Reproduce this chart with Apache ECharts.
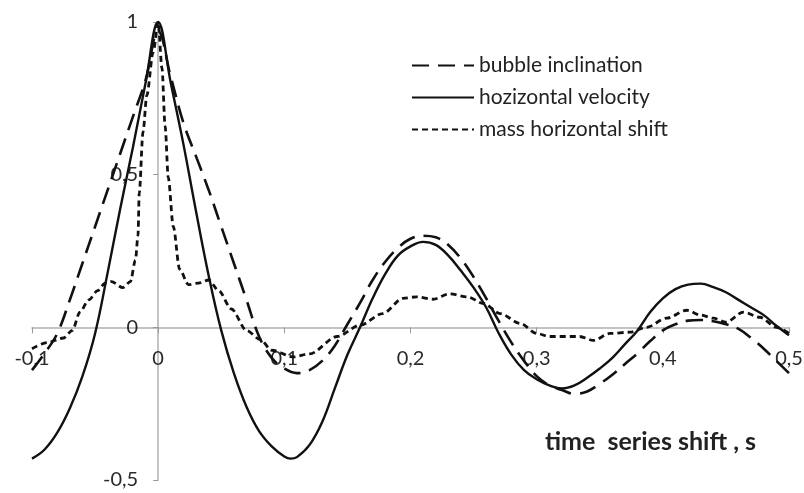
<!DOCTYPE html>
<html>
<head>
<meta charset="utf-8">
<script src="https://cdn.jsdelivr.net/npm/echarts@6/dist/echarts.min.js"></script>
<style>
html,body{margin:0;padding:0;background:#fff;}
#c{width:804px;height:493px;}
</style>
</head>
<body>
<div id="c"></div>
<script>
// Series names
const seriesNames = ['bubble inclination', 'hozizontal velocity', 'mass horizontal shift'];

// bubble inclination (long dashed): [time shift, correlation]
const inclination = [
  [-0.10,-0.14],[-0.09,-0.085],[-0.08,-0.02],[-0.07,0.09],[-0.06,0.21],[-0.05,0.33],
  [-0.04,0.45],[-0.03,0.57],[-0.02,0.69],[-0.01,0.81],[0.00,0.97],[0.01,0.82],[0.02,0.67],
  [0.03,0.56],[0.04,0.45],[0.05,0.33],[0.06,0.21],[0.07,0.09],[0.08,-0.03],[0.09,-0.10],
  [0.10,-0.135],[0.11,-0.15],[0.12,-0.14],[0.13,-0.11],[0.14,-0.06],[0.15,0.01],[0.16,0.08],
  [0.17,0.155],[0.18,0.215],[0.19,0.26],[0.20,0.29],[0.21,0.30],[0.22,0.295],[0.23,0.27],
  [0.24,0.225],[0.25,0.165],[0.26,0.095],[0.27,0.02],[0.28,-0.05],[0.29,-0.11],[0.30,-0.16],
  [0.31,-0.19],[0.32,-0.205],[0.33,-0.218],[0.34,-0.21],[0.35,-0.185],[0.36,-0.155],
  [0.37,-0.12],[0.38,-0.085],[0.39,-0.045],[0.40,-0.01],[0.41,0.01],[0.42,0.022],[0.43,0.024],
  [0.44,0.02],[0.45,0.01],[0.46,-0.005],[0.47,-0.035],[0.48,-0.07],[0.49,-0.11],[0.50,-0.15]
];

// horizontal velocity (solid)
const velocity = [
  [-0.10,-0.43],[-0.09,-0.40],[-0.08,-0.345],[-0.07,-0.265],[-0.06,-0.16],[-0.05,-0.02],
  [-0.04,0.18],[-0.03,0.39],[-0.02,0.59],[-0.01,0.80],[0.00,1.00],[0.01,0.80],[0.02,0.60],
  [0.03,0.38],[0.04,0.17],[0.05,-0.01],[0.06,-0.15],[0.07,-0.26],[0.08,-0.34],[0.09,-0.39],
  [0.10,-0.423],[0.105,-0.43],[0.11,-0.425],[0.12,-0.385],[0.13,-0.31],[0.14,-0.20],
  [0.15,-0.09],[0.16,0.00],
  [0.17,0.095],[0.18,0.175],[0.19,0.235],[0.20,0.265],[0.21,0.28],[0.22,0.27],[0.23,0.235],
  [0.24,0.185],[0.25,0.13],[0.26,0.065],[0.27,-0.02],[0.28,-0.09],[0.29,-0.14],[0.30,-0.17],
  [0.31,-0.19],[0.32,-0.20],[0.33,-0.19],[0.34,-0.165],[0.35,-0.135],[0.36,-0.10],
  [0.37,-0.055],[0.38,-0.01],[0.39,0.05],[0.40,0.095],[0.41,0.125],[0.42,0.14],[0.43,0.143],
  [0.44,0.132],[0.45,0.115],[0.46,0.09],[0.47,0.065],[0.48,0.04],[0.49,0.005],[0.50,-0.026]
];

// mass horizontal shift (short dashed)
const massShift = [
  [-0.1,-0.07],[-0.088,-0.05],[-0.075,-0.035],[-0.068,-0.01],[-0.062,0.05],[-0.055,0.09],
  [-0.048,0.12],[-0.042,0.145],[-0.037,0.15],[-0.028,0.13],[-0.022,0.15],[-0.018,0.22],
  [-0.016,0.3],[-0.015,0.44],[-0.012,0.64],[-0.009,0.76],[-0.004,0.9],[0,1.0],[0.003,0.85],
  [0.0055,0.66],[0.008,0.49],[0.012,0.33],[0.017,0.19],[0.024,0.14],[0.032,0.145],
  [0.04,0.155],[0.048,0.12],[0.058,0.06],[0.07,-0.01],[0.081,-0.04],[0.09,-0.075],
  [0.107,-0.097],[0.12,-0.087],[0.142,-0.03],[0.16,0.007],[0.178,0.045],[0.194,0.095],
  [0.205,0.1],[0.218,0.092],[0.231,0.11],[0.245,0.1],[0.258,0.078],[0.271,0.045],
  [0.287,0.013],[0.3,-0.02],[0.31,-0.03],[0.334,-0.03],[0.345,-0.043],[0.358,-0.02],
  [0.374,-0.016],[0.387,0],[0.403,0.03],[0.419,0.056],[0.43,0.04],[0.44,0.03],[0.45,0.017],
  [0.464,0.05],[0.477,0.033],[0.49,0.0],[0.5,-0.02]
];

const xAxisTitle = 'time  series shift , s';

const FONT = 'Lato';
const chart = echarts.init(document.getElementById('c'), null, {renderer: 'canvas'});
const fmt = v => String(Math.round(v * 10) / 10).replace('.', ',');

const option = {
  animation: false,
  backgroundColor: '#fff',
  grid: {left: 32, right: 15, top: 22, bottom: 13, containLabel: false, outerBoundsMode: 'none'},
  xAxis: {
    type: 'value', min: -0.1, max: 0.5, interval: 0.1, position: 'bottom', offset: 0,
    axisLine: {onZero: false, lineStyle: {color: '#b0b0b0', width: 1.5}},
    axisTick: {show: true, length: 6, lineStyle: {color: '#999'}},
    axisLabel: {margin: 21, color: '#2a2a2a', fontSize: 20, fontFamily: FONT, formatter: fmt},
    splitLine: {show: false}
  },
  yAxis: {
    type: 'value', min: -0.5, max: 1, interval: 0.5, position: 'left', offset: 0,
    axisLine: {show: true, onZero: false, lineStyle: {color: '#b0b0b0', width: 1.5}},
    axisTick: {show: true, length: 5, lineStyle: {color: '#999'}},
    axisLabel: {margin: 20, color: '#2a2a2a', fontSize: 20, fontFamily: FONT, formatter: fmt},
    splitLine: {show: false}
  },
  legend: {
    orient: 'vertical', left: 406, top: 50,
    itemWidth: 62, itemHeight: 14, itemGap: 11,
    itemStyle: {opacity: 0},
    textStyle: {fontSize: 21, fontFamily: FONT, color: '#222'},
    data: seriesNames
  },
  graphic: [{
    type: 'text', left: 545, top: 429,
    style: {text: xAxisTitle, font: 'bold 25px ' + FONT, fill: '#222'}
  }],
  series: [
    {name: seriesNames[0], type: 'line', data: inclination, showSymbol: false, symbol: 'none',
     smooth: 0.4,
     lineStyle: {color: '#111', width: 2.6, type: [17, 9]}, itemStyle: {color: '#111'}},
    {name: seriesNames[1], type: 'line', data: velocity, showSymbol: false, symbol: 'none',
     smooth: 0.4,
     lineStyle: {color: '#111', width: 2.4, type: 'solid'}, itemStyle: {color: '#111'}},
    {name: seriesNames[2], type: 'line', data: massShift, showSymbol: false, symbol: 'none',
     smooth: 0.3, smoothMonotone: 'x',
     lineStyle: {color: '#111', width: 2.8, type: [6, 4]}, itemStyle: {color: '#111'}}
  ]
};
chart.setOption(option);

// Move the axes so they cross at the data origin, using the library's own scales.
const origin = chart.convertToPixel({gridIndex: 0}, [0, 0]);
const leftEdge = chart.convertToPixel({gridIndex: 0}, [-0.1, -0.5]);
chart.setOption({
  xAxis: {offset: -(leftEdge[1] - origin[1])},
  yAxis: {offset: -(origin[0] - leftEdge[0])}
});
</script>
</body>
</html>
